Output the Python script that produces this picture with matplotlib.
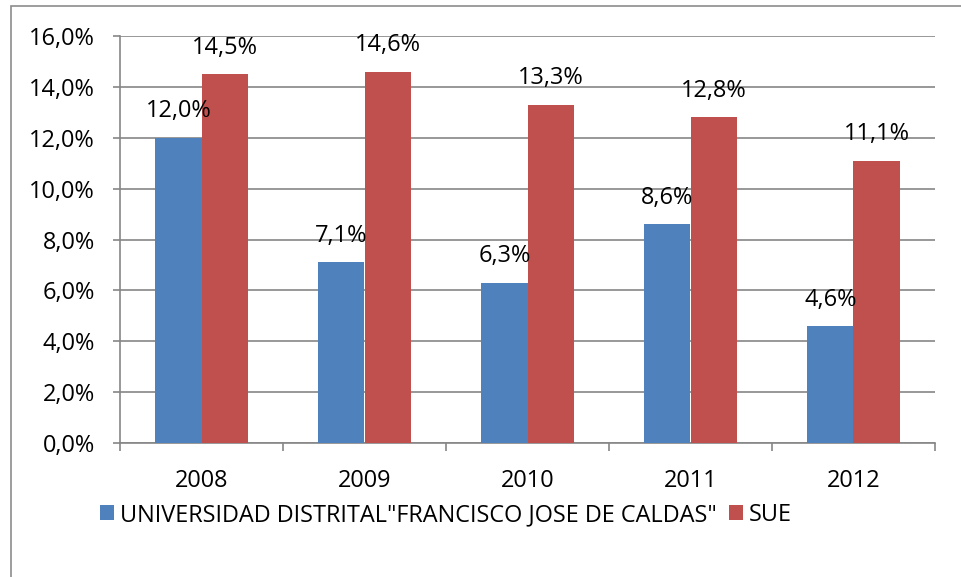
import matplotlib
matplotlib.use("Agg")
import matplotlib.pyplot as plt
from matplotlib.patches import Rectangle
import numpy as np

years = ["2008", "2009", "2010", "2011", "2012"]
ud_values = [12.0, 7.1, 6.3, 8.6, 4.6]
sue_values = [14.5, 14.6, 13.3, 12.8, 11.1]
series_names = ['UNIVERSIDAD DISTRITAL"FRANCISCO JOSE DE CALDAS"', "SUE"]
yticks = [0, 2, 4, 6, 8, 10, 12, 14, 16]

blue = "#4F81BD"
red = "#C0504D"
grid_c = "#868686"
FS = 16.9

plt.rcParams['font.family'] = ['Open Sans', 'DejaVu Sans']

W, H = 961, 577
fig = plt.figure(figsize=(W / 100, H / 100), dpi=100)

# outer border
fig.add_artist(Rectangle((11 / W, -0.1), 1.2, 1 - 6 / H + 0.1, transform=fig.transFigure,
                         fill=False, edgecolor="#8c8c8c", linewidth=1.2))

ax = fig.add_axes([120 / W, 1 - 443 / H, (935 - 120) / W, (443 - 36) / H])

x = np.arange(len(years))
bw = 0.283
ax.bar(x - bw / 2, ud_values, bw, color=blue, label=series_names[0], zorder=3)
ax.bar(x + bw / 2, sue_values, bw, color=red, label=series_names[1], zorder=3)

for xi, v in zip(x, ud_values):
    ax.annotate(f"{v:.1f}%".replace(".", ","), (xi - bw / 2, v), xytext=(0, 19),
                textcoords="offset points", ha="center", va="center", fontsize=FS, zorder=4)
for xi, v in zip(x, sue_values):
    ax.annotate(f"{v:.1f}%".replace(".", ","), (xi + bw / 2, v), xytext=(0, 19),
                textcoords="offset points", ha="center", va="center", fontsize=FS, zorder=4)

ax.set_xlim(-0.5, len(years) - 0.5)
ax.set_ylim(0, 16)
ax.set_yticks(yticks)
ax.set_yticklabels([f"{t:.1f}%".replace(".", ",") for t in yticks], fontsize=FS)
ax.yaxis.grid(True, color=grid_c, linewidth=1.2, zorder=0)
ax.tick_params(axis="y", length=5, color=grid_c, width=1.2, pad=13)

ax.set_xticks(np.arange(-0.5, len(years), 1.0))
ax.set_xticklabels([])
ax.set_xticks(x, minor=True)
ax.set_xticklabels(years, minor=True, fontsize=FS)
ax.tick_params(axis="x", which="major", length=6, color=grid_c, width=1.2)
ax.tick_params(axis="x", which="minor", length=0, pad=19)

for s in ["top", "right"]:
    ax.spines[s].set_visible(False)
for s in ["left", "bottom"]:
    ax.spines[s].set_color(grid_c)
    ax.spines[s].set_linewidth(1.2)

leg = fig.legend(loc="center", bbox_to_anchor=(446 / W, 1 - 515 / H), ncol=2, frameon=False,
                 fontsize=FS, handlelength=0.6, handleheight=0.6, handletextpad=0.25,
                 columnspacing=0.5, borderaxespad=0, borderpad=0)

fig.savefig("out.png", dpi=100)
